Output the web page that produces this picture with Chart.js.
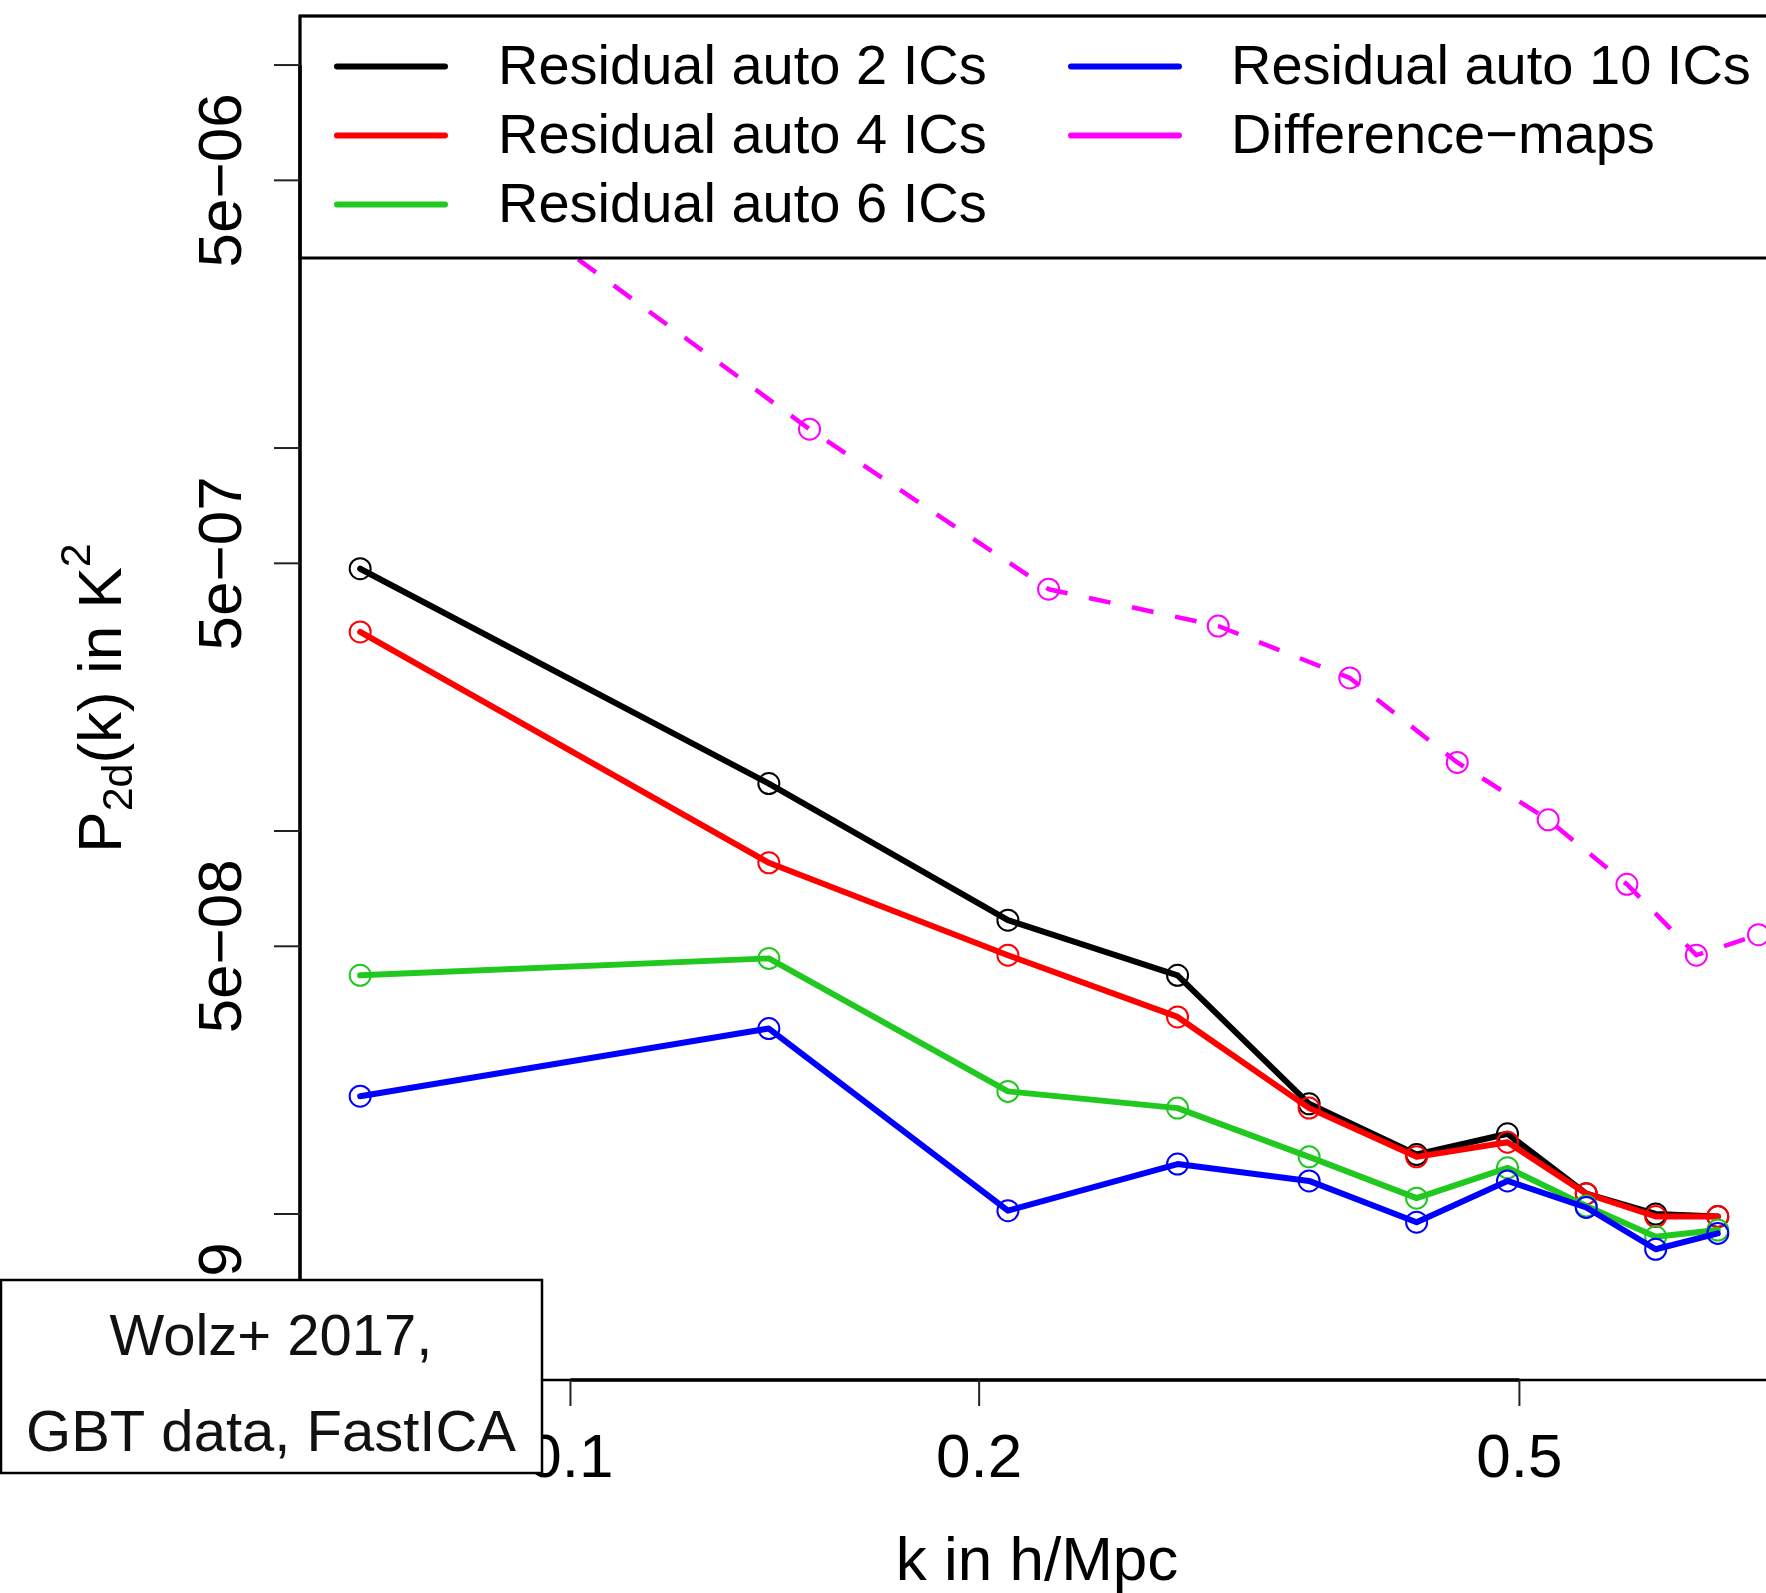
<!DOCTYPE html>
<html>
<head>
<meta charset="utf-8">
<script src="https://cdn.jsdelivr.net/npm/chart.js@4.4.1/dist/chart.umd.min.js"></script>
<style>
    html, body { margin: 0; padding: 0; background: #fff; }
    #wrap { width: 1766px; height: 1593px; overflow: hidden; }
</style>
</head>
<body>
<div id="wrap"><canvas id="chart1" width="1790" height="1593"></canvas></div>
<script>
// k bins (h/Mpc)
const kResidual = [0.07, 0.14, 0.21, 0.28, 0.35, 0.42, 0.49, 0.56, 0.63, 0.70];
const kDiff = [0.075, 0.15, 0.225, 0.3, 0.375, 0.45, 0.525, 0.6, 0.675, 0.75];

// P2d(k) in K^2
const auto2 = [4.84e-7, 1.33e-7, 5.85e-8, 4.20e-8, 1.94e-8, 1.43e-8, 1.62e-8, 1.13e-8, 1.00e-8, 9.85e-9];
const auto4 = [3.31e-7, 8.26e-8, 4.74e-8, 3.27e-8, 1.89e-8, 1.41e-8, 1.54e-8, 1.13e-8, 9.85e-9, 9.85e-9];
const auto6 = [4.20e-8, 4.65e-8, 2.09e-8, 1.89e-8, 1.41e-8, 1.10e-8, 1.32e-8, 1.05e-8, 8.72e-9, 9.08e-9];
const auto10 = [2.03e-8, 3.05e-8, 1.02e-8, 1.35e-8, 1.22e-8, 9.52e-9, 1.22e-8, 1.04e-8, 8.09e-9, 8.90e-9];
const diffMaps = [6.8e-6, 1.12e-6, 4.28e-7, 3.43e-7, 2.51e-7, 1.51e-7, 1.07e-7, 7.26e-8, 4.74e-8, 5.36e-8];

// ticks
const yTicks = [1e-5, 5e-6, 1e-6, 5e-7, 1e-7, 5e-8, 1e-8, 5e-9];
const yTickLabels = ['', '5e\u221206', '', '5e\u221207', '', '5e\u221208', '', '5e\u221209'];
const xTicks = [0.1, 0.2, 0.5];
const xTickLabels = ['0.1', '0.2', '0.5'];

const legendLabels = ['Residual auto 2 ICs', 'Residual auto 4 ICs', 'Residual auto 6 ICs', 'Residual auto 10 ICs', 'Difference\u2212maps'];
const colors = ['#000000', '#ff0000', '#20c820', '#0000ff', '#ff00ff'];

const FONT = '"Liberation Sans", Arial, sans-serif';

function pts(xs, ys) {
    return xs.map((k, i) => ({x: k, y: ys[i]}));
}

function series(i, xs, ys, extra) {
    return Object.assign({
        label: legendLabels[i],
        data: pts(xs, ys),
        borderColor: colors[i],
        borderWidth: 6,
        borderCapStyle: 'round',
        borderJoinStyle: 'round',
        pointRadius: 10.5,
        pointHoverRadius: 10.5,
        pointBorderWidth: 2,
        pointBorderColor: colors[i],
        pointBackgroundColor: 'rgba(0,0,0,0)',
        tension: 0,
        fill: false,
        order: 4 - i
    }, extra || {});
}

// R style axes, box, legend and note box
const rPlot = {
    id: 'rPlot',
    afterDatasetsDraw(chart) {
        const ctx = chart.ctx;
        const a = chart.chartArea;
        const x = chart.scales.x;
        const y = chart.scales.y;
        ctx.save();

        // legend box (white, covers the lines)
        const legBottom = 258;
        ctx.fillStyle = '#fff';
        ctx.fillRect(a.left, a.top, a.right - a.left, legBottom - a.top);
        ctx.strokeStyle = '#000';
        ctx.lineWidth = 3;
        ctx.strokeRect(a.left, a.top, a.right - a.left, legBottom - a.top);

        const rows = [66.5, 135.5, 204.5];
        ctx.font = '56px ' + FONT;
        ctx.textBaseline = 'middle';
        ctx.textAlign = 'left';
        legendLabels.forEach((lab, i) => {
            const col = i < 3 ? 0 : 1;
            const ry = rows[i < 3 ? i : i - 3];
            const x0 = col === 0 ? 337 : 1071;
            ctx.strokeStyle = colors[i];
            ctx.lineWidth = 6;
            ctx.lineCap = 'round';
            ctx.beginPath();
            ctx.moveTo(x0, ry);
            ctx.lineTo(x0 + 108, ry);
            ctx.stroke();
            ctx.fillStyle = '#000';
            ctx.fillText(lab, col === 0 ? 498 : 1231, ry + 2);
        });

        // plot box
        ctx.lineCap = 'butt';
        ctx.strokeStyle = '#000';
        ctx.lineWidth = 2.5;
        ctx.strokeRect(a.left, a.top, a.right - a.left, a.bottom - a.top);

        // axis lines
        ctx.lineWidth = 3.5;
        ctx.beginPath();
        ctx.moveTo(a.left, y.getPixelForValue(yTicks[0]));
        ctx.lineTo(a.left, y.getPixelForValue(yTicks[yTicks.length - 1]));
        ctx.moveTo(x.getPixelForValue(xTicks[0]), a.bottom);
        ctx.lineTo(x.getPixelForValue(xTicks[xTicks.length - 1]), a.bottom);
        ctx.stroke();

        // y ticks
        ctx.strokeStyle = '#222';
        ctx.lineWidth = 2;
        ctx.fillStyle = '#000';
        ctx.font = '62px ' + FONT;
        yTicks.forEach((v, i) => {
            const py = y.getPixelForValue(v);
            ctx.beginPath();
            ctx.moveTo(a.left - 26, py);
            ctx.lineTo(a.left, py);
            ctx.stroke();
            if (yTickLabels[i]) {
                ctx.save();
                ctx.translate(241, py);
                ctx.rotate(-Math.PI / 2);
                ctx.textAlign = 'center';
                ctx.textBaseline = 'alphabetic';
                ctx.fillText(yTickLabels[i], 0, 0);
                ctx.restore();
            }
        });

        // x ticks
        ctx.textAlign = 'center';
        ctx.textBaseline = 'alphabetic';
        xTicks.forEach((v, i) => {
            const px = x.getPixelForValue(v);
            ctx.beginPath();
            ctx.moveTo(px, a.bottom);
            ctx.lineTo(px, a.bottom + 26);
            ctx.stroke();
            ctx.fillText(xTickLabels[i], px, 1477);
        });

        // axis titles
        ctx.fillText('k in h/Mpc', (a.left + a.right) / 2, 1580);

        ctx.save();
        ctx.translate(120.5, (a.top + a.bottom) / 2);
        ctx.rotate(-Math.PI / 2);
        ctx.textAlign = 'left';
        const big = '62px ' + FONT, small = '43px ' + FONT;
        const parts = [['P', big, 0], ['2d', small, 11.5], ['(k) in K', big, 0], ['2', small, -30.5]];
        let w = 0;
        parts.forEach(p => { ctx.font = p[1]; w += ctx.measureText(p[0]).width; });
        let cx = -w / 2;
        parts.forEach(p => {
            ctx.font = p[1];
            ctx.fillText(p[0], cx, p[2]);
            cx += ctx.measureText(p[0]).width;
        });
        ctx.restore();

        // note box
        ctx.fillStyle = '#fff';
        ctx.fillRect(1, 1280, 541, 193);
        ctx.strokeStyle = '#000';
        ctx.lineWidth = 2.5;
        ctx.strokeRect(1, 1280, 541, 193);
        ctx.fillStyle = '#111';
        ctx.font = '58px ' + FONT;
        ctx.textAlign = 'center';
        ctx.fillText('Wolz+ 2017,', 271, 1355);
        ctx.fillText('GBT data, FastICA', 271, 1451);

        ctx.restore();
    }
};

const ctx = document.getElementById('chart1').getContext('2d');
const chart1 = new Chart(ctx, {
    type: 'line',
    data: {
        datasets: [
            series(0, kResidual, auto2),
            series(1, kResidual, auto4),
            series(2, kResidual, auto6),
            series(3, kResidual, auto10),
            series(4, kDiff, diffMaps, {borderWidth: 4.5, borderDash: [22, 22], borderCapStyle: 'butt'})
        ]
    },
    options: {
        responsive: false,
        animation: false,
        devicePixelRatio: 1,
        layout: {
            padding: {left: 300, top: 16, right: 16, bottom: 213}
        },
        scales: {
            x: {
                type: 'logarithmic',
                min: 0.06321,
                max: 0.770,
                display: false
            },
            y: {
                type: 'logarithmic',
                min: 3.686e-9,
                max: 1.343e-5,
                display: false
            }
        },
        plugins: {
            legend: {display: false},
            tooltip: {enabled: false}
        }
    },
    plugins: [rPlot]
});
</script>
</body>
</html>
